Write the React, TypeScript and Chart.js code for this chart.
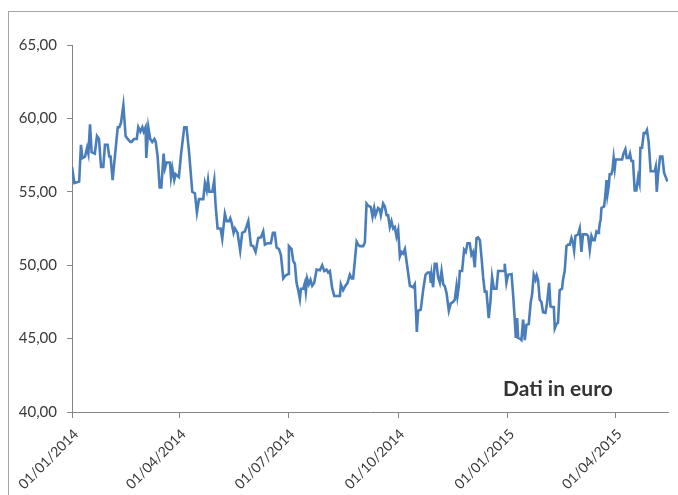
import React, { useEffect, useRef } from "react";
import { Chart, registerables } from "chart.js";

Chart.register(...registerables);

// Days elapsed since 01/01/2014 for each reading
const dayOffsets = [
  0, 2, 6, 7.5, 8.7, 10.9, 12.6, 13.7, 15.1, 16.4, 19.1, 20.9, 22.6, 24.3, 26.2, 27.6, 29.8, 31.2, 32.3, 34,
  38.3, 39.6, 41, 43, 44.9, 46.6, 48.8, 49.9, 51.8, 54.2, 55.5, 57.2, 58.9, 60, 61.6, 62.2, 63.9, 65.5, 67.2, 69,
  70.1, 71.7, 73.4, 74.8, 76.7, 77.8, 79.2, 82, 82.9, 84, 85.6, 86.8, 89.5, 91.2, 94, 95.9, 98, 100.7, 102.9, 104.6,
  106.3, 109.9, 111.3, 112.8, 113.9, 115, 117.5, 119.1, 120.2, 121.9, 124.4, 125.8, 128, 129.5, 131.4, 132.5, 133.6, 135.3, 136.4, 138.6,
  140.8, 142.5, 144.8, 147.6, 149.8, 151.7, 153.7, 155.9, 158.2, 160.1, 161.5, 163.8, 166.5, 168.2, 169.8, 171.3, 173.3, 174.9, 176.9, 178.8,
  181, 181.6, 183.8, 185.2, 186.6, 188, 189.4, 190.8, 191.7, 193.6, 195, 195.8, 196.9, 198.3, 199.7, 201.1, 202.8, 204.8, 207.6, 209.5,
  211.2, 213.1, 214.5, 215.9, 217.8, 219.6, 222.9, 224.3, 225.1, 227, 229, 230.7, 232.6, 234.1, 235.4, 236.8, 238.3, 239.6, 241, 243.8,
  245.2, 246.6, 248, 250.2, 251.6, 253, 254.1, 256.3, 257.7, 258.6, 260.5, 261.9, 263.4, 264.7, 266.1, 267.5, 268.9, 270.3, 271.7, 273.1,
  274.5, 275.9, 277.2, 278.7, 282.9, 285.6, 287, 288.7, 289.8, 292, 294, 296, 297.7, 299.6, 300.4, 301, 302.3, 303.7, 305.2, 306.5,
  308, 309.4, 310.8, 312.2, 313.6, 315.5, 317.1, 319.1, 320.5, 321.9, 322.7, 323.9, 324.7, 326.6, 328.3, 329.7, 331.1, 333, 334.4, 335.8,
  337.2, 338.7, 340, 341.5, 342.9, 344.2, 345.6, 347, 348.9, 350.3, 351.7, 353.2, 355.4, 356.8, 359.6, 361.8, 362.3, 363.7, 365.1, 368,
  369.4, 370.7, 371.6, 372.7, 373.5, 374.9, 376.3, 377.7, 379.1, 380.5, 382.4, 384.1, 385.2, 386.6, 388.1, 389.1, 390.2, 391.6, 393, 394.4,
  396.4, 397.7, 399.5, 400.6, 402, 403.4, 404.2, 405.6, 406.9, 408.3, 410.3, 411.1, 412.5, 414, 415.4, 416.8, 418.2, 419.5, 420.4, 421.5,
  423.7, 425.1, 426.5, 427.8, 430.7, 432.1, 433.5, 434.9, 436.3, 437.6, 439.1, 440.4, 441.2, 441.8, 442.6, 443.3, 445.5, 446.6, 447.5, 448.3,
  449.4, 450.2, 451.6, 452.5, 453.5, 454.4, 455.2, 456.3, 458.6, 460.6, 461.7, 463.3, 464.4, 466.1, 467.2, 468.4, 469.7, 471.1, 472.5, 474,
  475.1, 475.9, 477.3, 478.7, 480.3, 481.4, 482.8, 484.5, 486.4, 487.8, 488.7, 489.6, 490.7, 492.4, 494.3, 495.7, 497.1, 498.5,
];

// Price in euro for each reading
const prices = [
  56.7, 55.6, 55.7, 58.2, 57.3, 57.4, 58.0, 57.6, 59.6, 57.7, 57.6, 58.8, 58.6, 56.7, 56.7, 58.2, 58.2, 57.4, 57.4, 55.8,
  59.4, 59.4, 59.7, 60.9, 58.8, 58.6, 58.4, 58.4, 58.6, 58.6, 59.4, 59.1, 59.4, 59.1, 59.4, 57.3, 59.4, 58.6, 58.4, 58.6,
  58.4, 57.4, 55.3, 55.3, 57.6, 56.6, 57.0, 57.0, 56.0, 56.6, 55.8, 56.2, 56.0, 57.5, 59.4, 59.4, 57.7, 55.0, 54.9, 53.6,
  54.5, 54.5, 55.6, 55.1, 55.8, 55.0, 55.0, 55.8, 54.1, 52.5, 52.5, 51.8, 53.5, 53.0, 53.0, 53.2, 52.9, 52.2, 52.5, 52.2,
  51.0, 52.2, 52.3, 53.0, 51.35, 51.3, 50.9, 51.85, 51.9, 52.3, 51.4, 51.5, 51.5, 52.2, 52.2, 51.2, 51.1, 50.7, 49.1, 49.3,
  49.4, 51.3, 51.1, 50.3, 50.1, 48.8, 48.3, 47.7, 48.4, 48.4, 48.8, 48.2, 49.1, 48.7, 49.0, 48.6, 48.8, 49.7, 49.65, 50.0,
  49.6, 49.7, 49.5, 49.6, 48.45, 47.9, 47.9, 47.9, 48.7, 48.3, 48.6, 48.8, 49.35, 49.1, 49.1, 50.3, 51.6, 51.4, 51.3, 51.3,
  51.55, 54.2, 54.05, 53.96, 53.3, 53.9, 53.4, 53.9, 53.8, 53.4, 54.2, 54.0, 53.4, 53.4, 52.6, 53.0, 52.5, 52.6, 51.95, 52.4,
  50.6, 50.9, 50.8, 51.1, 48.6, 48.5, 48.7, 45.45, 46.9, 46.97, 48.3, 49.35, 49.5, 49.5, 48.8, 49.35, 48.5, 50.1, 50.1, 49.2,
  48.8, 49.6, 48.7, 48.56, 48.1, 46.9, 47.4, 47.5, 47.65, 48.56, 47.9, 48.6, 49.6, 49.6, 51.05, 50.9, 51.5, 51.5, 50.7, 50.9,
  49.85, 51.85, 51.9, 51.7, 50.5, 49.2, 48.2, 48.2, 46.4, 47.5, 49.2, 48.4, 48.4, 49.6, 49.6, 49.6, 50.1, 48.8, 49.35, 49.4,
  47.9, 46.3, 45.05, 46.4, 45.05, 45.0, 44.9, 46.3, 44.9, 45.95, 46.0, 47.5, 48.0, 49.35, 49.0, 49.3, 49.0, 47.65, 47.5, 46.8,
  46.75, 47.4, 48.8, 47.2, 47.15, 47.15, 45.7, 46.0, 46.07, 48.3, 48.4, 49.0, 49.6, 51.3, 51.4, 51.4, 51.85, 51.5, 51.0, 52.0,
  52.1, 52.5, 50.9, 52.1, 52.1, 52.0, 51.05, 52.0, 51.7, 51.7, 52.3, 52.2, 52.4, 52.8, 53.1, 53.9, 54.0, 54.8, 55.8, 54.8,
  55.4, 56.2, 56.2, 56.5, 57.3, 56.6, 57.2, 57.2, 57.2, 57.2, 57.6, 57.9, 57.3, 57.3, 57.6, 57.1, 57.1, 55.1, 55.1, 56.0,
  55.6, 58.0, 58.0, 59.0, 59.0, 59.2, 58.4, 56.4, 56.4, 56.4, 56.7, 55.0, 56.2, 57.4, 57.4, 56.3, 56.0, 55.7,
];

const tickDates = ["01/01/2014", "01/04/2014", "01/07/2014", "01/10/2014", "01/01/2015", "01/04/2015"];
const yTicks = [40, 45, 50, 55, 60, 65];
const startDate = "01/01/2014";
const lastDay = 499;
const note = "Dati in euro";

function toUTC(s: string): number {
  const [d, m, y] = s.split("/").map(Number);
  return Date.UTC(y, m - 1, d);
}
function dayOf(s: string): number {
  return Math.round((toUTC(s) - toUTC(startDate)) / 86400000);
}

const AXIS = "#868686";
const TEXT = "#3a3a3a";
const FONT = "Lato";

export default function App() {
  const ref = useRef<HTMLCanvasElement | null>(null);

  useEffect(() => {
    if (!ref.current) return;
    const tickDays = tickDates.map(dayOf);
    const notePlugin = {
      id: "note",
      afterDraw(chart: any) {
        const ctx = chart.ctx;
        ctx.save();
        ctx.font = `bold 21px ${FONT}`;
        ctx.fillStyle = "#333333";
        ctx.textAlign = "left";
        ctx.textBaseline = "alphabetic";
        ctx.fillText(note, 503, 396);
        ctx.restore();
      },
    };
    const chart = new Chart(ref.current, {
      type: "line",
      data: {
        datasets: [
          {
            data: dayOffsets.map((d, i) => ({ x: d, y: prices[i] })),
            borderColor: "#4a7ebb",
            borderWidth: 2.6,
            pointRadius: 0,
            tension: 0,
            fill: false,
          },
        ],
      },
      options: {
        animation: false,
        responsive: false,
        maintainAspectRatio: false,
        layout: { padding: { top: 45, right: 10, left: 0, bottom: 0 } },
        plugins: { legend: { display: false }, tooltip: { enabled: false } },
        scales: {
          x: {
            type: "linear",
            min: 0,
            max: lastDay,
            afterBuildTicks: (s: any) => {
              s.ticks = tickDays.map((v) => ({ value: v }));
            },
            afterFit: (s: any) => {
              s.height = 83;
            },
            ticks: {
              autoSkip: false,
              minRotation: 45,
              maxRotation: 45,
              padding: 8,
              labelOffset: 4,
              color: TEXT,
              font: { family: FONT, size: 14 },
              callback: (v: any) => {
                const i = tickDays.indexOf(Number(v));
                return i >= 0 ? tickDates[i] : "";
              },
            },
            grid: { drawOnChartArea: false, drawTicks: true, tickLength: 6, color: AXIS },
            border: { color: AXIS, width: 1 },
          },
          y: {
            min: yTicks[0],
            max: yTicks[yTicks.length - 1],
            afterBuildTicks: (s: any) => {
              s.ticks = yTicks.map((v) => ({ value: v }));
            },
            afterFit: (s: any) => {
              s.width = 72;
            },
            ticks: {
              padding: 10,
              color: TEXT,
              font: { family: FONT, size: 15 },
              callback: (v: any) => Number(v).toFixed(2).replace(".", ","),
            },
            grid: { drawOnChartArea: false, drawTicks: true, tickLength: 5, color: AXIS },
            border: { color: AXIS, width: 1 },
          },
        },
      },
      plugins: [notePlugin],
    });
    return () => chart.destroy();
  }, []);

  return (
    <div style={{ position: "fixed", left: 0, top: 0, width: 678, height: 495, overflow: "hidden", background: "#fff" }}>
      <div
        style={{
          position: "absolute",
          left: 8,
          top: 11,
          width: 680,
          height: 500,
          borderLeft: "1px solid #a6a6a6",
          borderTop: "1px solid #a6a6a6",
        }}
      />
      <canvas ref={ref} width={678} height={495} style={{ position: "absolute", left: 0, top: 0, width: 678, height: 495 }} />
    </div>
  );
}
